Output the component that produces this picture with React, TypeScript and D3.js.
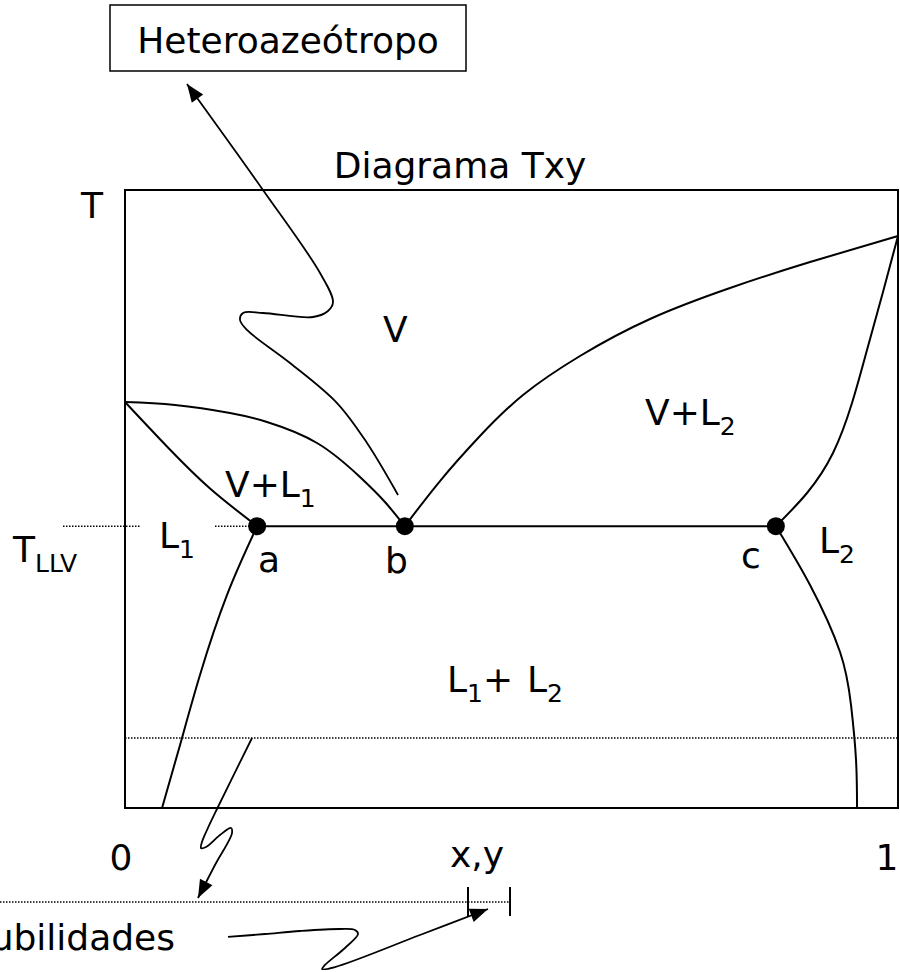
import React from 'react';
import * as d3 from 'd3';

// ---- Data (x = mole fraction, T = relative temperature) ----
const X_A = 0.171;
const X_B = 0.362;
const X_C = 0.842;
const T_LLV = 45.6;
const T_LOW = 11.33;

const bubbleL1: [number, number][] = [
  [0, 65.7], [0.0543, 58.5], [0.11, 51.7], [0.171, 45.6],
];
const dewL1: [number, number][] = [
  [0, 65.7], [0.0647, 65.21], [0.1358, 63.92], [0.1837, 62.46], [0.2484, 59.06],
  [0.304, 53.56], [0.3363, 49.51], [0.362, 45.6],
];
const dewL2: [number, number][] = [
  [0.362, 45.6], [0.4075, 52.91], [0.4592, 60.19], [0.5149, 66.83], [0.5886, 73.14],
  [0.6792, 79.13], [0.7827, 84.14], [0.8862, 88.35], [1.0, 92.56],
];
const bubbleL2: [number, number][] = [
  [0.842, 45.6], [0.8823, 50.97], [0.9159, 57.44], [0.9405, 65.53], [0.9599, 74.11],
  [0.9806, 83.5], [1.0, 92.56],
];
const solubilityL1: [number, number][] = [
  [0.171, 45.6], [0.132, 34.47], [0.097, 21.52], [0.0712, 10.19], [0.0479, 0],
];
const solubilityL2: [number, number][] = [
  [0.842, 45.6], [0.8862, 36.08], [0.925, 25.24], [0.9392, 16.67], [0.9457, 7.77], [0.947, 0],
];
const triplePoints: [string, number][] = [['a', X_A], ['b', X_B], ['c', X_C]];

// annotation squiggles (same x/T units)
const heteroArrow: [number, number][] = [
  [0.3532, 50.65], [0.3131, 59.06], [0.2743, 65.53], [0.2135, 72.01], [0.1578, 77.35],
  [0.1488, 78.96], [0.1527, 80.1], [0.1785, 80.1], [0.2432, 79.45], [0.2626, 80.42],
  [0.2691, 81.88], [0.2523, 86.57], [0.1785, 100.0], [0.0802, 117.15],
];
const solArrow1: [number, number][] = [
  [0.1643, 11.33], [0.119, -0.16], [0.1061, -3.56], [0.0996, -5.5], [0.0983, -6.47],
  [0.1048, -6.31], [0.1229, -4.37], [0.1371, -3.24], [0.1384, -4.05], [0.1164, -9.22], [0.0944, -14.56],
];
const solArrow2: [number, number][] = [
  [0.1332, -20.87], [0.1811, -20.39], [0.2264, -19.9], [0.2781, -19.58], [0.2975, -19.74],
  [0.3014, -20.39], [0.2846, -22.65], [0.2587, -25.4], [0.2549, -26.05], [0.2717, -25.73],
  [0.3816, -20.55], [0.4696, -16.34],
];
const T_SOL_LINE = -15.21;
const solLineX: [number, number] = [-0.1617, 0.4981];
const solTicks = [0.4437, 0.4981];
const tllvDots: [number, number][] = [[-0.0802, 0.0194], [0.1164, 0.171]];

const W = 900;
const H = 972;
const FONT = 'DejaVu Sans';
const FS = 36;
const SUB = 25;

export default function App() {
  const x = d3.scaleLinear().domain([0, 1]).range([125, 898]);
  const t = d3.scaleLinear().domain([0, 100]).range([808, 190]);
  const smooth = d3
    .line<[number, number]>()
    .x((d) => x(d[0]))
    .y((d) => t(d[1]))
    .curve(d3.curveNatural);
  const line = d3
    .line<[number, number]>()
    .x((d) => x(d[0]))
    .y((d) => t(d[1]))
    .curve(d3.curveCatmullRom.alpha(0.5));

  const arrowHead = (pts: [number, number][]) => {
    const n = pts.length;
    const [x1, y1] = [x(pts[n - 2][0]), t(pts[n - 2][1])];
    const [x2, y2] = [x(pts[n - 1][0]), t(pts[n - 1][1])];
    const len = Math.hypot(x2 - x1, y2 - y1);
    const ux = (x2 - x1) / len;
    const uy = (y2 - y1) / len;
    const L = 18;
    const Wd = 7;
    const bx = x2 - L * ux;
    const by = y2 - L * uy;
    return `${x2},${y2} ${bx - Wd * uy},${by + Wd * ux} ${bx + Wd * uy},${by - Wd * ux}`;
  };

  const curves = [bubbleL1, dewL1, dewL2, bubbleL2, solubilityL1, solubilityL2];
  const dotted = { stroke: '#000', strokeWidth: 1.5, strokeDasharray: '1.5,1.5' };

  return (
    <svg width={W} height={H} style={{ position: 'absolute', left: 0, top: 0, background: '#fff' }}
      fontFamily={FONT} fontSize={FS} fill="#000">
      <rect x={0} y={0} width={W} height={H} fill="#fff" />
      {/* Heteroazeótropo box */}
      <rect x={110} y={5} width={356} height={66} fill="none" stroke="#000" strokeWidth={1.5} />
      <text x={288} y={53} textAnchor="middle">Heteroazeótropo</text>
      <text x={460} y={178} textAnchor="middle">Diagrama Txy</text>
      <text x={92} y={218} textAnchor="middle">T</text>

      {/* frame */}
      <rect x={x(0)} y={t(100)} width={x(1) - x(0)} height={t(0) - t(100)} fill="none" stroke="#000" strokeWidth={2} />

      {/* dotted lines */}
      {tllvDots.map((s, i) => (
        <line key={i} x1={x(s[0])} x2={x(s[1])} y1={t(T_LLV)} y2={t(T_LLV)} {...dotted} />
      ))}
      <line x1={x(0)} x2={x(1)} y1={t(T_LOW)} y2={t(T_LOW)} {...dotted} />
      <line x1={x(solLineX[0])} x2={x(solLineX[1])} y1={t(T_SOL_LINE)} y2={t(T_SOL_LINE)} {...dotted} />
      {solTicks.map((v, i) => (
        <line key={i} x1={x(v)} x2={x(v)} y1={t(T_SOL_LINE) - 15} y2={t(T_SOL_LINE) + 14} stroke="#000" strokeWidth={2} />
      ))}

      {/* phase curves */}
      {curves.map((c, i) => (
        <path key={i} d={smooth(c) || ''} fill="none" stroke="#000" strokeWidth={2} />
      ))}
      <line x1={x(X_A)} x2={x(X_C)} y1={t(T_LLV)} y2={t(T_LLV)} stroke="#000" strokeWidth={2} />
      {triplePoints.map(([k, v]) => (
        <circle key={k} cx={x(v)} cy={t(T_LLV)} r={9} fill="#000" />
      ))}

      {/* annotation arrows */}
      <path d={line(heteroArrow) || ''} fill="none" stroke="#000" strokeWidth={1.8} />
      <polygon points={arrowHead(heteroArrow)} fill="#000" />
      <path d={line(solArrow1) || ''} fill="none" stroke="#000" strokeWidth={1.8} />
      <polygon points={arrowHead(solArrow1)} fill="#000" />
      <path d={line(solArrow2) || ''} fill="none" stroke="#000" strokeWidth={1.8} />
      <polygon points={arrowHead(solArrow2)} fill="#000" />

      {/* region labels */}
      <text x={383} y={342}>V</text>
      <text x={225} y={497}>V+L<tspan fontSize={SUB} dy={10}>1</tspan></text>
      <text x={645} y={425}>V+L<tspan fontSize={SUB} dy={10}>2</tspan></text>
      <text x={159} y={548}>L<tspan fontSize={SUB} dy={10}>1</tspan></text>
      <text x={819} y={553}>L<tspan fontSize={SUB} dy={10}>2</tspan></text>
      <text x={13} y={562}>T<tspan fontSize={SUB} dy={10}>LLV</tspan></text>
      <text x={447} y={692}>L<tspan fontSize={SUB} dy={10}>1</tspan><tspan dy={-10}>+</tspan><tspan x={527}>L</tspan><tspan fontSize={SUB} dy={10}>2</tspan></text>
      <text x={258} y={572}>a</text>
      <text x={385} y={573}>b</text>
      <text x={741} y={568}>c</text>

      {/* axis labels */}
      <text x={121} y={870} textAnchor="middle">0</text>
      <text x={477} y={867} textAnchor="middle">x,y</text>
      <text x={887} y={870} textAnchor="middle">1</text>
      <text x={175} y={950} textAnchor="end">Solubilidades</text>
    </svg>
  );
}
